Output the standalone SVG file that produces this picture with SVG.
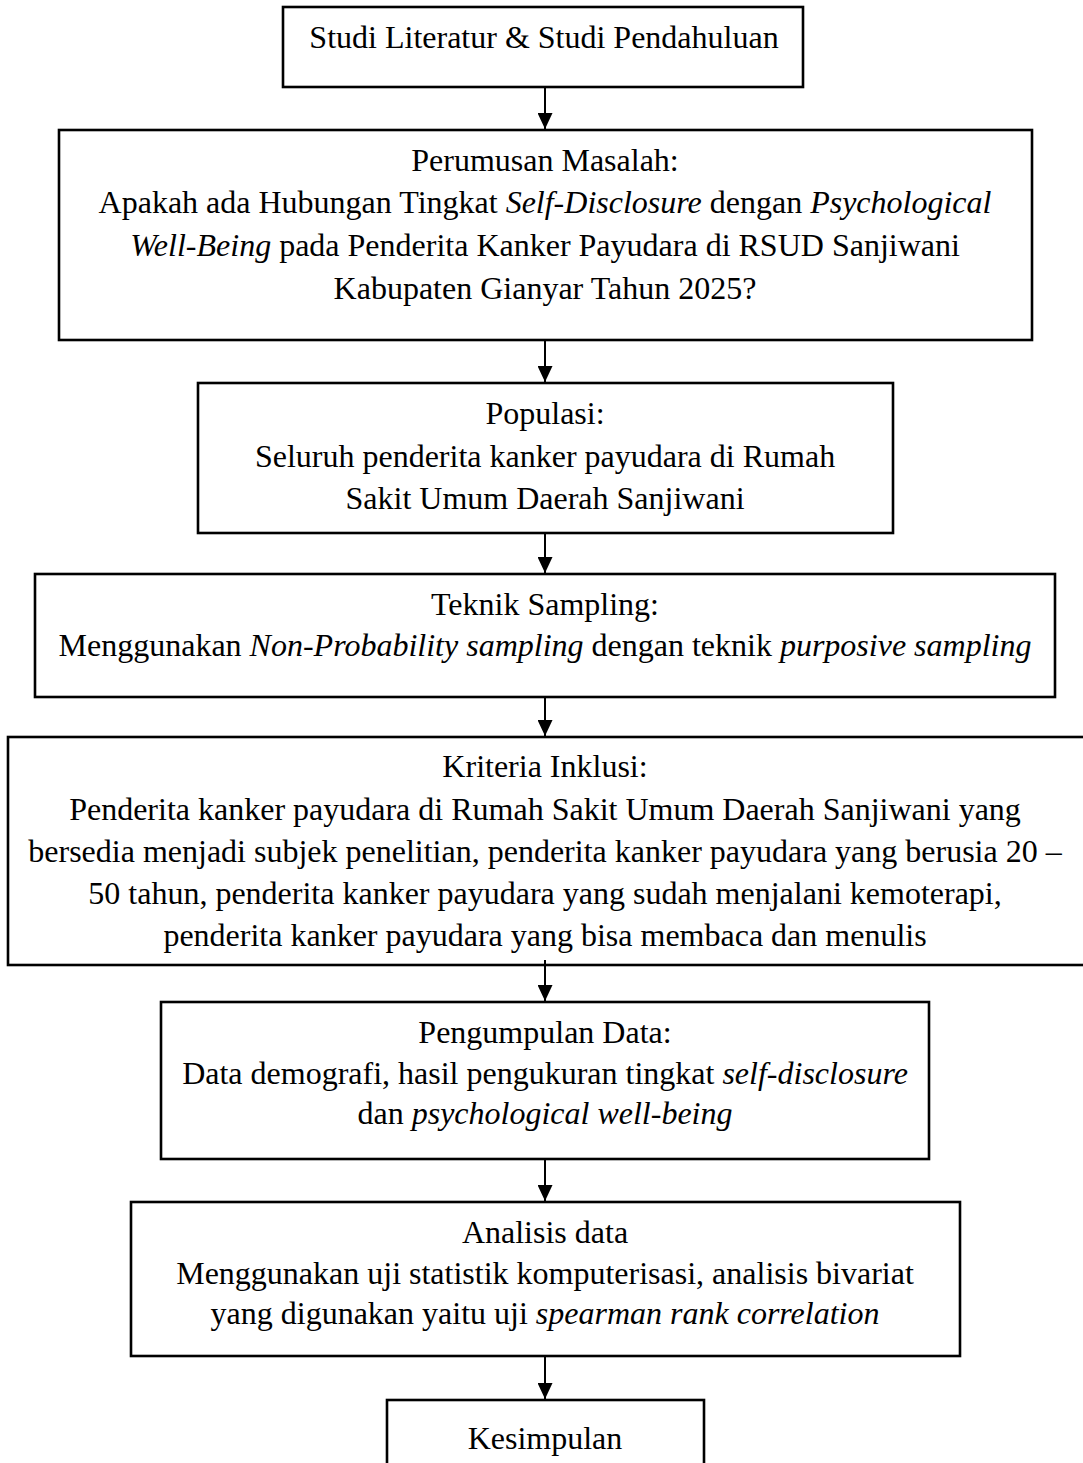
<svg xmlns="http://www.w3.org/2000/svg" width="1083" height="1463" viewBox="0 0 1083 1463">
<style>
.box{fill:#fff;stroke:#000;stroke-width:2.6}
text{font-family:"Liberation Serif","Times New Roman",serif;font-size:32px;fill:#000;text-anchor:middle}
.i{font-style:italic}
.con{stroke:#000;stroke-width:2;fill:none}
</style>
<defs>
<marker id="ah" markerWidth="16" markerHeight="15" refX="16" refY="7.5" orient="auto" markerUnits="userSpaceOnUse"><path d="M0,0 L16,7.5 L0,15 Z" fill="#000"/></marker>
</defs>
<rect width="1083" height="1463" fill="#fff"/>
<g id="n1">
<rect class="box" x="283" y="7" width="520" height="80"/>
<text x="544" y="48">Studi Literatur &amp; Studi Pendahuluan</text>
</g>
<g id="n2">
<rect class="box" x="59" y="130" width="973" height="210"/>
<text x="545" y="171">Perumusan Masalah:</text>
<text x="545" y="213">Apakah ada Hubungan Tingkat <tspan class="i">Self-Disclosure</tspan> dengan <tspan class="i">Psychological</tspan></text>
<text x="545" y="256"><tspan class="i">Well-Being</tspan> pada Penderita Kanker Payudara di RSUD Sanjiwani</text>
<text x="545" y="299">Kabupaten Gianyar Tahun 2025?</text>
</g>
<g id="n3">
<rect class="box" x="198" y="383" width="695" height="150"/>
<text x="545" y="424">Populasi:</text>
<text x="545" y="467">Seluruh penderita kanker payudara di Rumah</text>
<text x="545" y="509">Sakit Umum Daerah Sanjiwani</text>
</g>
<g id="n4">
<rect class="box" x="35" y="574" width="1020" height="123"/>
<text x="545" y="615">Teknik Sampling:</text>
<text x="545" y="656">Menggunakan <tspan class="i">Non-Probability sampling</tspan> dengan teknik <tspan class="i">purposive sampling</tspan></text>
</g>
<g id="n5">
<rect class="box" x="8" y="737" width="1090" height="228"/>
<text x="545" y="777">Kriteria Inklusi:</text>
<text x="545" y="820">Penderita kanker payudara di Rumah Sakit Umum Daerah Sanjiwani yang</text>
<text x="545" y="862">bersedia menjadi subjek penelitian, penderita kanker payudara yang berusia 20 –</text>
<text x="545" y="904">50 tahun, penderita kanker payudara yang sudah menjalani kemoterapi,</text>
<text x="545" y="946">penderita kanker payudara yang bisa membaca dan menulis</text>
</g>
<g id="n6">
<rect class="box" x="161" y="1002" width="768" height="157"/>
<text x="545" y="1043">Pengumpulan Data:</text>
<text x="545" y="1084">Data demografi, hasil pengukuran tingkat <tspan class="i">self-disclosure</tspan></text>
<text x="545" y="1124">dan <tspan class="i">psychological well-being</tspan></text>
</g>
<g id="n7">
<rect class="box" x="131" y="1202" width="829" height="154"/>
<text x="545" y="1243">Analisis data</text>
<text x="545" y="1284">Menggunakan uji statistik komputerisasi, analisis bivariat</text>
<text x="545" y="1324">yang digunakan yaitu uji <tspan class="i">spearman rank correlation</tspan></text>
</g>
<g id="n8">
<rect class="box" x="387" y="1400" width="317" height="70"/>
<text x="545" y="1449">Kesimpulan</text>
</g>
<g id="connectors">
<path class="con" d="M545,88 V129" marker-end="url(#ah)"/>
<path class="con" d="M545,341 V382" marker-end="url(#ah)"/>
<path class="con" d="M545,534 V573" marker-end="url(#ah)"/>
<path class="con" d="M545,698 V736" marker-end="url(#ah)"/>
<path class="con" d="M545,960 V1001" marker-end="url(#ah)"/>
<path class="con" d="M545,1160 V1201" marker-end="url(#ah)"/>
<path class="con" d="M545,1357 V1399" marker-end="url(#ah)"/>
</g>
</svg>
